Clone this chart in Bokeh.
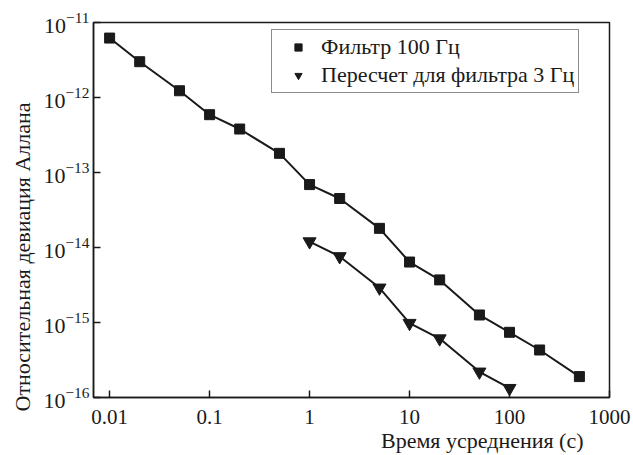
from bokeh.plotting import figure
from bokeh.models import FixedTicker, CustomJSTickFormatter, Legend, LegendItem, Title
from bokeh.embed import file_html
from bokeh.resources import INLINE

# data
tau_100 = [0.01, 0.02, 0.05, 0.1, 0.2, 0.5, 1, 2, 5, 10, 20, 50, 100, 200, 500]
adev_100 = [6.2e-12, 3.0e-12, 1.23e-12, 5.9e-13, 3.8e-13, 1.8e-13, 6.9e-14, 4.5e-14,
            1.8e-14, 6.4e-15, 3.7e-15, 1.26e-15, 7.4e-16, 4.3e-16, 1.9e-16]
tau_3 = [1, 2, 5, 10, 20, 50, 100]
adev_3 = [1.2e-14, 7.6e-15, 2.9e-15, 9.8e-16, 6.1e-16, 2.2e-16, 1.33e-16]

x_ticks = [0.01, 0.1, 1, 10, 100, 1000]
x_tick_labels = ["0.01", "0.1", "1", "10", "100", "1000"]
y_ticks = [1e-16, 1e-15, 1e-14, 1e-13, 1e-12, 1e-11]

label_100 = "Фильтр 100 Гц"
label_3 = "Пересчет для фильтра 3 Гц"
x_title = "Время усреднения (с)"
y_title = "Относительная девиация Аллана"

FONT = "Liberation Serif"
INK = "#1a1a1a"

p = figure(width=633, height=455, x_axis_type="log", y_axis_type="log",
           x_range=(0.0069, 1000), y_range=(1e-16, 1e-11),
           output_backend="svg", toolbar_location=None,
           min_border_left=93, min_border_right=24, min_border_top=22, min_border_bottom=54)

p.grid.visible = False
p.outline_line_color = INK
p.outline_line_width = 1.5
p.background_fill_color = "white"
p.border_fill_color = "white"

for ax in (p.xaxis[0], p.yaxis[0]):
    ax.axis_line_color = INK
    ax.axis_line_width = 1.5
    ax.major_tick_in = 7
    ax.major_tick_out = 0
    ax.major_tick_line_color = INK
    ax.major_tick_line_width = 1.5
    ax.minor_tick_line_color = None
    ax.major_label_text_font = FONT
    ax.major_label_text_color = INK

p.xaxis[0].ticker = FixedTicker(ticks=x_ticks)
p.xaxis[0].formatter = CustomJSTickFormatter(args=dict(labels=x_tick_labels),
                                             code="return labels[index];")
p.xaxis[0].major_label_text_font_size = "21px"
p.xaxis[0].major_label_standoff = 12

p.yaxis[0].ticker = FixedTicker(ticks=y_ticks)
p.yaxis[0].major_label_text_font_size = "22px"
p.yaxis[0].major_label_standoff = 4

p.line(tau_100, adev_100, line_color=INK, line_width=2)
p.line(tau_3, adev_3, line_color=INK, line_width=2)
sq = p.scatter(tau_100, adev_100, marker="square", size=10,
               fill_color=INK, line_color=INK)
tr = p.scatter(tau_3, adev_3, marker="inverted_triangle", size=13,
               fill_color=INK, line_color=INK)

legend = Legend(items=[LegendItem(label=label_100, renderers=[sq]),
                       LegendItem(label=label_3, renderers=[tr])],
                location=(178, 304))
legend.label_text_font = FONT
legend.label_text_font_size = "22px"
legend.label_text_color = INK
legend.border_line_color = INK
legend.border_line_width = 1.5
legend.padding = 4
legend.spacing = 2
legend.glyph_width = 44
legend.glyph_height = 18
legend.label_height = 18
legend.label_standoff = 1
legend.margin = 0
legend.background_fill_alpha = 1
p.add_layout(legend)

xt = Title(text=x_title, align="right", offset=26, vertical_align="top", standoff=2,
           text_font=FONT, text_font_size="22px", text_font_style="normal", text_color=INK)
p.add_layout(xt, "below")

yt = Title(text=y_title, align="left", offset=-14, standoff=11,
           text_font=FONT, text_font_size="22px", text_font_style="normal", text_color=INK)
p.add_layout(yt, "left")

open("out.html", "w").write(file_html(p, INLINE))
